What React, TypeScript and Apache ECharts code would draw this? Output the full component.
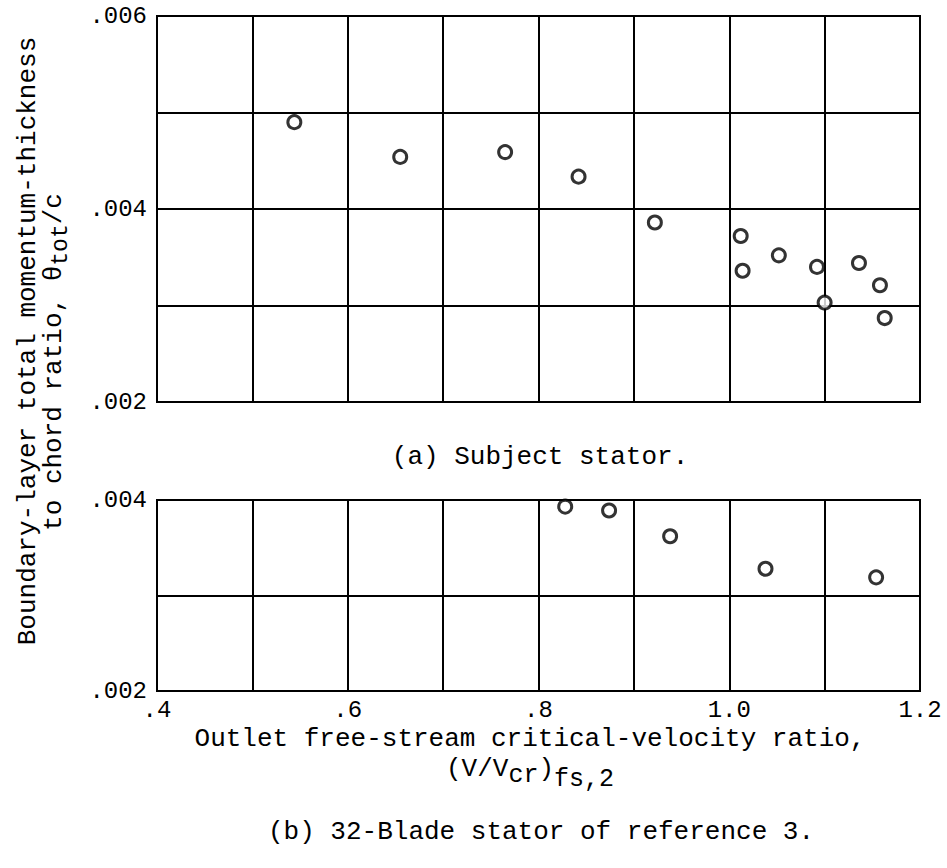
import React, { useEffect, useRef } from 'react';
import * as echarts from 'echarts';

// (a) Subject stator
const subjectVelocityRatio = [0.544, 0.655, 0.765, 0.842, 0.922, 1.012, 1.014, 1.052, 1.092, 1.136, 1.158, 1.100, 1.163];
const subjectThetaRatio = [0.00490, 0.00454, 0.00459, 0.004335, 0.00386, 0.00372, 0.00336, 0.00352, 0.00340, 0.00344, 0.00321, 0.00303, 0.00287];

// (b) 32-Blade stator of reference 3
const refVelocityRatio = [0.828, 0.874, 0.938, 1.038, 1.154];
const refThetaRatio = [0.00393, 0.00389, 0.00362, 0.00328, 0.00319];

const X_MIN = 0.4;
const X_MAX = 1.2;
const X_STEP = 0.1;
const Y_STEP = 0.001;

const FONT = '"Liberation Mono", "DejaVu Sans Mono", monospace';

const yFmt = (v: number) => {
  const k = Math.round(v * 1000);
  if (k % 2 !== 0) return '';
  return '.' + String(k).padStart(3, '0');
};
const xFmt = (v: number) => {
  const k = Math.round(v * 10);
  if (k % 2 !== 0) return '';
  return k < 10 ? '.' + k : (k / 10).toFixed(1);
};

export default function App() {
  const ref = useRef<HTMLDivElement>(null);
  useEffect(() => {
    document.body.style.margin = '0';
    const chart = echarts.init(ref.current!, null, { renderer: 'svg' });
    const lineStyle = { color: '#000', width: 2 };
    const markerStyle = { color: '#fff', borderColor: '#000', borderWidth: 3 };
    const mkX = (gridIndex: number, showLabels: boolean) => ({
      type: 'value', gridIndex, min: X_MIN, max: X_MAX, interval: X_STEP,
      axisLine: { show: false }, axisTick: { show: false },
      splitLine: { show: true, lineStyle },
      axisLabel: { show: showLabels, formatter: xFmt, color: '#000', fontFamily: FONT, fontSize: 24, margin: 7 },
    });
    const rich = {
      m: { fontFamily: FONT, fontSize: 26, lineHeight: 30, color: '#000', verticalAlign: 'top' },
      s: { fontFamily: FONT, fontSize: 25, lineHeight: 30, color: '#000', verticalAlign: 'top', padding: [7, 0, 0, 0] },
      s2: { fontFamily: FONT, fontSize: 25, lineHeight: 30, color: '#000', verticalAlign: 'top', padding: [11, 0, 0, 0] },
    };
    const richY = {
      m: { fontFamily: FONT, fontSize: 26, lineHeight: 26, color: '#000' },
      s: { fontFamily: FONT, fontSize: 23, lineHeight: 23, color: '#000', padding: [14, 0, 0, 0] },
    };
    chart.setOption({
      animation: false,
      backgroundColor: '#fff',
      grid: [
        { left: 157, top: 16, width: 763, height: 386, show: true, borderColor: '#000', borderWidth: 2, backgroundColor: 'transparent' },
        { left: 157, top: 500, width: 763, height: 191, show: true, borderColor: '#000', borderWidth: 2, backgroundColor: 'transparent' },
      ],
      xAxis: [mkX(0, false), mkX(1, true)],
      yAxis: [
        {
          type: 'value', gridIndex: 0, min: 0.002, max: 0.006, interval: Y_STEP,
          axisLine: { show: false }, axisTick: { show: false },
          splitLine: { show: true, lineStyle },
          axisLabel: { color: '#000', fontFamily: FONT, fontSize: 24, margin: 10, padding: [9, 0, 0, 0], formatter: yFmt },
        },
        {
          type: 'value', gridIndex: 1, min: 0.002, max: 0.004, interval: Y_STEP,
          axisLine: { show: false }, axisTick: { show: false },
          splitLine: { show: true, lineStyle },
          axisLabel: { color: '#000', fontFamily: FONT, fontSize: 24, margin: 10, formatter: yFmt },
        },
      ],
      series: [
        {
          type: 'scatter', xAxisIndex: 0, yAxisIndex: 0, symbol: 'circle', symbolSize: 13,
          itemStyle: markerStyle,
          data: subjectVelocityRatio.map((x, i) => [x, subjectThetaRatio[i]]),
        },
        {
          type: 'scatter', xAxisIndex: 1, yAxisIndex: 1, symbol: 'circle', symbolSize: 13,
          itemStyle: markerStyle,
          data: refVelocityRatio.map((x, i) => [x, refThetaRatio[i]]),
        },
      ],
      graphic: [
        {
          type: 'text', x: 28, y: 341, rotation: Math.PI / 2,
          style: { text: 'Boundary-layer total momentum-thickness', fontFamily: FONT, fontSize: 26, fill: '#000', align: 'center', verticalAlign: 'middle' },
        },
        {
          type: 'text', x: 54, y: 362, rotation: Math.PI / 2,
          style: { text: '{m|to chord ratio, θ}{s|tot}{m|/c}', rich: richY, fontFamily: FONT, fontSize: 26, fill: '#000', align: 'center', verticalAlign: 'middle' },
        },
        {
          type: 'text', x: 540, y: 457,
          style: { text: '(a) Subject stator.', fontFamily: FONT, fontSize: 26, fill: '#000', align: 'center', verticalAlign: 'middle' },
        },
        {
          type: 'text', x: 530, y: 726,
          style: {
            text: '{m|Outlet free-stream critical-velocity ratio,}\n{m|(V/V}{s|cr}{m|)}{s2|fs,2}',
            rich, fontFamily: FONT, fontSize: 26, fill: '#000', align: 'center', verticalAlign: 'top',
          },
        },
        {
          type: 'text', x: 541, y: 832,
          style: { text: '(b) 32-Blade stator of reference 3.', fontFamily: FONT, fontSize: 26, fill: '#000', align: 'center', verticalAlign: 'middle' },
        },
      ],
    });
    return () => chart.dispose();
  }, []);
  return <div ref={ref} style={{ width: 947, height: 868 }} />;
}
